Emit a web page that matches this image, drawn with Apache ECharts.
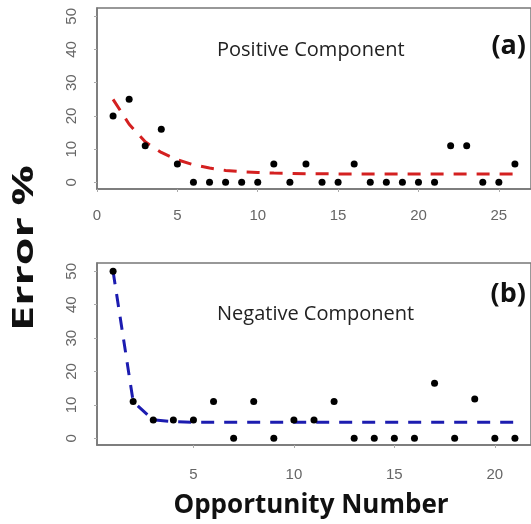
<!DOCTYPE html>
<html>
<head>
<meta charset="utf-8">
<script src="https://cdn.jsdelivr.net/npm/echarts@6/dist/echarts.min.js"></script>
<style>
  html, body { margin: 0; padding: 0; background: #fff; }
</style>
</head>
<body>
<div id="chart" style="width: 531px;height: 524px;"></div>
<script>
// (a) positive component
const oppA = [1,2,3,4,5,6,7,8,9,10,11,12,13,14,15,16,17,18,19,20,21,22,23,24,25,26];
const errA = [20,25,11,16,5.5,0,0,0,0,0,5.5,0,5.5,0,0,5.5,0,0,0,0,0,11,11,0,0,5.5];
const fitA = [25,17.5,12.2,9,6.8,5.3,4.3,3.6,3.2,3,2.8,2.7,2.6,2.6,2.5,2.5,2.5,2.5,2.5,2.5,2.5,2.5,2.5,2.5,2.5,2.5];

// (b) negative component
const oppB = [1,2,3,4,5,6,7,8,9,10,11,12,13,14,15,16,17,18,19,20,21];
const errB = [50,11,5.5,5.5,5.5,11,0,11,0,5.5,5.5,11,0,0,0,0,16.5,0,11.8,0,0];
const fitB = [50,11,5.5,5,4.8,4.8,4.8,4.8,4.8,4.8,4.8,4.8,4.8,4.8,4.8,4.8,4.8,4.8,4.8,4.8,4.8];

const xTicksA = [0,5,10,15,20,25];
const xTicksB = [5,10,15,20];
const yTicks = [0,10,20,30,40,50];

const pairs = (xs, ys) => xs.map((x, i) => [x, ys[i]]);

const tickFont = 'Liberation Sans, Arial, sans-serif';
const textFont = 'Open Sans, sans-serif';

const xAxisBase = (idx, min, max, ticks, margin) => ({
  type: 'value',
  gridIndex: idx,
  min: min,
  max: max,
  splitLine: { show: false },
  axisLine: { show: true, onZero: false, lineStyle: { color: '#777', width: 1.5 } },
  axisTick: { show: true, customValues: ticks, length: 3, lineStyle: { color: '#aaa' } },
  axisLabel: { customValues: ticks, color: '#666', fontSize: 15, fontFamily: tickFont, margin: margin }
});

const yAxisBase = (idx) => ({
  type: 'value',
  gridIndex: idx,
  min: -2,
  max: 52.5,
  splitLine: { show: false },
  axisLine: { show: true, onZero: false, lineStyle: { color: '#777', width: 1.5 } },
  axisTick: { show: true, customValues: yTicks, length: 3, lineStyle: { color: '#aaa' } },
  axisLabel: { customValues: yTicks, rotate: 90, color: '#666', fontSize: 15, fontFamily: tickFont, margin: 18 }
});

const chart = echarts.init(document.getElementById('chart'));

let option = {
  animation: false,
  grid: [
    { left: 97, top: 8, width: 437, height: 181, show: true, borderColor: '#777', borderWidth: 1.5 },
    { left: 97, top: 263, width: 436, height: 182, show: true, borderColor: '#777', borderWidth: 1.5 }
  ],
  xAxis: [
    xAxisBase(0, 0, 27, xTicksA, 19),
    xAxisBase(1, 0.2, 21.8, xTicksB, 22)
  ],
  yAxis: [yAxisBase(0), yAxisBase(1)],
  series: [
    {
      type: 'line',
      xAxisIndex: 0, yAxisIndex: 0,
      data: pairs(oppA, fitA),
      showSymbol: false,
      lineStyle: { color: '#d42020', width: 3, type: [13, 10] },
      z: 2
    },
    {
      type: 'scatter',
      xAxisIndex: 0, yAxisIndex: 0,
      data: pairs(oppA, errA),
      symbolSize: 7,
      itemStyle: { color: '#000', opacity: 1 },
      z: 3
    },
    {
      type: 'line',
      xAxisIndex: 1, yAxisIndex: 1,
      data: pairs(oppB, fitB),
      showSymbol: false,
      lineStyle: { color: '#1c1cb0', width: 3, type: [13, 10] },
      z: 2
    },
    {
      type: 'scatter',
      xAxisIndex: 1, yAxisIndex: 1,
      data: pairs(oppB, errB),
      symbolSize: 7,
      itemStyle: { color: '#000', opacity: 1 },
      z: 3
    }
  ],
  graphic: [
    {
      type: 'text', x: 217, y: 50,
      style: { text: 'Positive Component', font: '20px ' + textFont, fill: '#222', textVerticalAlign: 'middle' }
    },
    {
      type: 'text', x: 217, y: 314,
      style: { text: 'Negative Component', font: '20px ' + textFont, fill: '#222', textVerticalAlign: 'middle' }
    },
    {
      type: 'text', x: 526, y: 46,
      style: { text: '(a)', font: 'bold 27px ' + textFont, fill: '#111', textAlign: 'right', textVerticalAlign: 'middle' }
    },
    {
      type: 'text', x: 526, y: 294,
      style: { text: '(b)', font: 'bold 27px ' + textFont, fill: '#111', textAlign: 'right', textVerticalAlign: 'middle' }
    },
    {
      type: 'text', x: 311, y: 506,
      style: { text: 'Opportunity Number', font: 'bold 26px ' + textFont, fill: '#111', textAlign: 'center', textVerticalAlign: 'middle' }
    },
    {
      type: 'text', x: 25, y: 248, rotation: Math.PI / 2, scaleX: 1.6,
      style: { text: 'Error %', font: 'bold 28px ' + textFont, fill: '#111', textAlign: 'center', textVerticalAlign: 'middle' }
    }
  ]
};
chart.setOption(option);
</script>
</body>
</html>
